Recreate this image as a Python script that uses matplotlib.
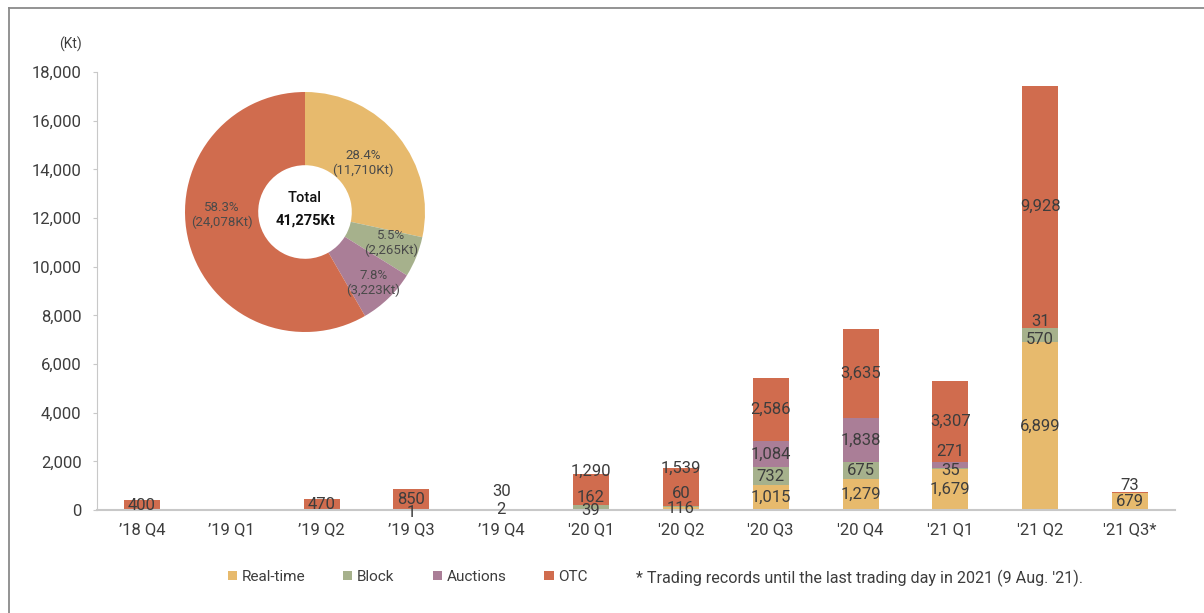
import matplotlib
matplotlib.use("Agg")
import numpy as np
import matplotlib.pyplot as plt
from matplotlib.lines import Line2D
from matplotlib.patches import Patch
from matplotlib.ticker import FuncFormatter

plt.rcParams["font.family"] = ["Roboto", "DejaVu Sans"]

quarters = ["\u201918 Q4", "\u201919 Q1", "\u201919 Q2", "\u201919 Q3", "\u201919 Q4",
            "'20 Q1", "'20 Q2", "'20 Q3", "'20 Q4", "'21 Q1", "'21 Q2", "'21 Q3*"]
realtime = [0, 0, 0, 0, 2, 39, 116, 1015, 1279, 1679, 6899, 679]
block = [0, 0, 0, 1, 30, 162, 60, 732, 675, 35, 570, 0]
auctions = [0, 0, 0, 0, 0, 0, 0, 1084, 1838, 271, 31, 0]
otc = [400, 0, 470, 850, 0, 1290, 1539, 2586, 3635, 3307, 9928, 73]

series_names = ["Real-time", "Block", "Auctions", "OTC"]
colors = ["#E7BA6D", "#A6B18C", "#AA7E97", "#D06C4E"]

# label nudges for the thin segments: (series index, quarter index) -> kt
nudges = {(1, 3): -110, (1, 4): 760, (0, 5): -50, (1, 5): 410, (3, 5): 745,
          (1, 6): 545, (3, 6): 765, (2, 9): 560, (1, 9): -60, (2, 10): 270,
          (1, 10): -166, (3, 11): 305}

pie_pct = ["28.4%", "5.5%", "7.8%", "58.3%"]
pie_kt = [11710, 2265, 3223, 24078]
total_kt = 41275

text_col = "#3d3d3d"
grid_col = "#c8c8c8"

fig = plt.figure(figsize=(12.04, 6.13), dpi=100)
ax = fig.add_axes([97 / 1204, 1 - 510 / 613, 1078 / 1204, 438 / 613])

x = np.arange(len(quarters))
stack = [realtime, block, auctions, otc]
bottom = np.zeros(len(quarters))
for si, (vals, col) in enumerate(zip(stack, colors)):
    vals = np.array(vals, dtype=float)
    ax.bar(x, vals, 0.4, bottom=bottom, color=col, zorder=2)
    for qi, v in enumerate(vals):
        if v <= 0:
            continue
        y = bottom[qi] + v / 2 + nudges.get((si, qi), 0)
        ax.text(x[qi], y, f"{int(v):,}", ha="center", va="center",
                fontsize=12, color=text_col, zorder=3)
    bottom += vals

ax.set_xlim(-0.5, 11.5)
ax.set_ylim(0, 18000)
ax.set_yticks(np.arange(0, 18001, 2000))
ax.yaxis.set_major_formatter(FuncFormatter(lambda v, p: f"{int(v):,}"))
ax.set_xticks(x)
ax.set_xticklabels(quarters)
ax.tick_params(axis="y", length=3, color=grid_col, pad=8, labelsize=12,
               labelcolor=text_col)
ax.tick_params(axis="x", length=0, pad=9, labelsize=12, labelcolor=text_col)
for s in ["top", "right"]:
    ax.spines[s].set_visible(False)
ax.spines["left"].set_color(grid_col)
ax.spines["bottom"].set_color(grid_col)
ax.spines["bottom"].set_linewidth(1.5)
fig.text(82 / 1204, 1 - 44 / 613, "(Kt)", ha="right", va="center",
         fontsize=10, color=text_col)

# donut of the cumulative shares
pax = fig.add_axes([185 / 1204, 1 - 332 / 613, 240 / 1204, 240 / 613])
wedges, _ = pax.pie(pie_kt, colors=colors, startangle=90, counterclock=False,
                    wedgeprops=dict(width=0.61, linewidth=0))
label_r = [0.63, 0.76, 0.82, 0.69]
label_shift = [1, 2, 0, -13]
for w, r, sh, pct, kt in zip(wedges, label_r, label_shift, pie_pct, pie_kt):
    ang = np.deg2rad((w.theta1 + w.theta2) / 2 + sh)
    pax.text(r * np.cos(ang), r * np.sin(ang), f"{pct}\n({kt:,}Kt)",
             ha="center", va="center", fontsize=9.5, color="#4a4a4a",
             linespacing=1.15)
pax.text(0, 0.12, "Total", ha="center", va="center", fontsize=10.5,
         color="#111111", fontweight="medium")
pax.text(0, -0.07, f"{total_kt:,}Kt", ha="center", va="center",
         fontsize=10.5, color="#111111", fontweight="bold")
pax.set_xlim(-1, 1)
pax.set_ylim(-1, 1)
pax.set_aspect("equal")
pax.axis("off")

handles = [Patch(facecolor=c, edgecolor="none") for c in colors]
fig.legend(handles, series_names, loc="center left",
           bbox_to_anchor=(214 / 1204, 1 - 577 / 613), ncol=4, frameon=False,
           handlelength=0.6, handleheight=0.6, handletextpad=0.3,
           columnspacing=2.5, fontsize=11, labelcolor=text_col)
fig.text(636 / 1204, 1 - 578 / 613,
         "* Trading records until the last trading day in 2021 (9 Aug. '21).",
         ha="left", va="center", fontsize=11.6, color=text_col)

# outer frame lines
fig.add_artist(Line2D([9 / 1204, 1], [1 - 8 / 613] * 2, color="#8a8a8a",
                      lw=1.3, transform=fig.transFigure))
fig.add_artist(Line2D([9 / 1204] * 2, [0, 1 - 8 / 613], color="#8a8a8a",
                      lw=1.3, transform=fig.transFigure))

fig.savefig("out.png", dpi=100)
